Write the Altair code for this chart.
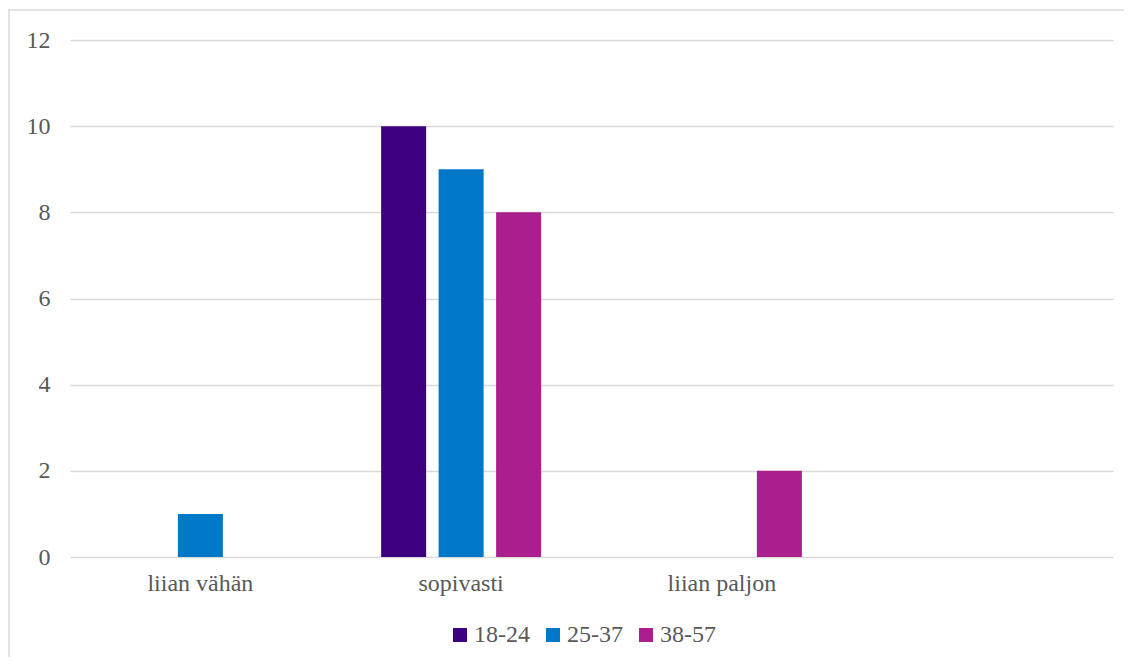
import altair as alt
import pandas as pd

categories = ["liian vähän", "sopivasti", "liian paljon"]
groups = ["18-24", "25-37", "38-57"]
v_18_24 = [0, 10, 0]
v_25_37 = [1, 9, 0]
v_38_57 = [0, 8, 2]
colors = ["#3D0080", "#0078C8", "#AB1E8E"]
y_ticks = [0, 2, 4, 6, 8, 10, 12]

rows = []
for g, vals in zip(groups, [v_18_24, v_25_37, v_38_57]):
    for c, v in zip(categories, vals):
        rows.append({"cat": c, "group": g, "value": v})
df = pd.DataFrame(rows)

FONT = "Liberation Serif"
GRAY = "#595959"

bars = alt.Chart(df).mark_bar().encode(
    x=alt.X(
        "cat:N",
        sort=None,
        scale=alt.Scale(domain=categories + [""], paddingInner=0, paddingOuter=0),
        axis=alt.Axis(title=None, labelAngle=0, domain=False, ticks=False, grid=False,
                      labelFont=FONT, labelFontSize=24, labelColor=GRAY, labelPadding=14),
    ),
    xOffset=alt.XOffset("group:N", scale=alt.Scale(domain=groups, paddingInner=0.217, paddingOuter=0.876)),
    y=alt.Y(
        "value:Q",
        scale=alt.Scale(domain=[0, 12]),
        axis=alt.Axis(title=None, values=y_ticks, domain=False, ticks=False, grid=True,
                      gridColor="#D9D9D9", gridWidth=1.5,
                      labelFont=FONT, labelFontSize=24, labelColor=GRAY, labelPadding=20),
    ),
    color=alt.Color(
        "group:N",
        scale=alt.Scale(domain=groups, range=colors),
        legend=alt.Legend(title=None, orient="none", legendX=378, legendY=583, direction="horizontal",
                          symbolType="square", symbolSize=196, symbolStrokeWidth=0,
                          labelFont=FONT, labelFontSize=24, labelColor=GRAY,
                          labelOffset=2, columnPadding=11),
    ),
)

frame = alt.Chart(pd.DataFrame({"a": [0]})).mark_rect(
    fillOpacity=0, stroke="#D9D9D9", strokeWidth=1.5
).encode(
    x=alt.value(-61), x2=alt.value(1200), y=alt.value(-30), y2=alt.value(800)
)

chart = alt.layer(frame, bars).properties(
    width=1043,
    height=517,
    padding={"left": 62, "top": 32, "right": 11, "bottom": 100},
    autosize=alt.AutoSizeParams(type="none"),
    background="white",
).configure_view(stroke=None)

chart.save("out.html", embed_options={"renderer": "svg", "actions": False})
